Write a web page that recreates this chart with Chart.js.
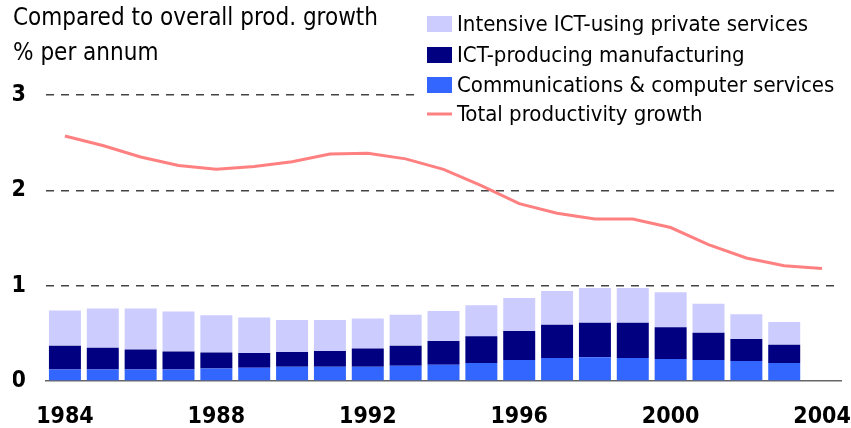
<!DOCTYPE html>
<html>
<head>
<meta charset="utf-8">
<script src="https://cdn.jsdelivr.net/npm/chart.js@4.4.1/dist/chart.umd.min.js"></script>
<style>
  html, body { margin: 0; padding: 0; background: #fff; }
  #wrap { width: 851px; height: 428px; position: relative; }
</style>
</head>
<body>
<div id="wrap"><canvas id="c"></canvas></div>
<script>
var FONT = "'DejaVu Sans Condensed', 'Liberation Sans Narrow', sans-serif";

var years = ['1984','1985','1986','1987','1988','1989','1990','1991','1992','1993','1994',
             '1995','1996','1997','1998','1999','2000','2001','2002','2003','2004'];

// stacked contributions (bottom to top), no bar for 2004
var commsServices = [0.12,0.12,0.12,0.12,0.13,0.14,0.15,0.15,0.15,0.16,0.17,0.19,0.22,0.24,0.25,0.24,0.23,0.22,0.21,0.19];
var ictManufacturing = [0.25,0.23,0.21,0.19,0.17,0.155,0.155,0.165,0.19,0.21,0.25,0.28,0.305,0.35,0.36,0.37,0.335,0.285,0.23,0.19];
var ictUsingServices = [0.37,0.41,0.43,0.42,0.39,0.37,0.335,0.325,0.315,0.325,0.315,0.325,0.345,0.355,0.365,0.365,0.365,0.305,0.26,0.24];

var totalGrowth = [2.57,2.47,2.35,2.26,2.22,2.25,2.30,2.38,2.39,2.33,2.22,2.05,1.86,1.76,1.70,1.70,1.61,1.43,1.29,1.21,1.18];

var yTicks = [0, 1, 2, 3];

// legend drawn as a column over the top right corner
var boxLegend = {
  id: 'boxLegend',
  afterDraw: function(chart){
    var ctx = chart.ctx;
    var order = [2, 1, 0, 3];
    var x0 = 427, rowY = [24, 55, 85, 114];
    ctx.save();
    ctx.fillStyle = '#fff';
    ctx.fillRect(421, 0, chart.width - 421, 128);
    ctx.font = '22px ' + FONT;
    ctx.textBaseline = 'middle';
    ctx.textAlign = 'left';
    for(var i=0; i<order.length; i++){
      var ds = chart.data.datasets[order[i]];
      var y = rowY[i];
      if(ds.type === 'line'){
        ctx.strokeStyle = ds.borderColor;
        ctx.lineWidth = 3;
        ctx.beginPath();
        ctx.moveTo(x0, y);
        ctx.lineTo(x0+25, y);
        ctx.stroke();
      } else {
        ctx.fillStyle = ds.backgroundColor;
        ctx.fillRect(x0, y-8, 25, 16);
      }
      ctx.fillStyle = '#000';
      ctx.fillText(ds.label, x0+30, y+1);
    }
    ctx.restore();
  }
};

var chart = new Chart(document.getElementById('c'), {
  type: 'bar',
  data: {
    labels: years,
    datasets: [
      {label: 'Communications & computer services', data: commsServices, backgroundColor: '#3366FF', stack: 'ict', order: 1},
      {label: 'ICT-producing manufacturing', data: ictManufacturing, backgroundColor: '#000080', stack: 'ict', order: 1},
      {label: 'Intensive ICT-using private services', data: ictUsingServices, backgroundColor: '#CCCCFF', stack: 'ict', order: 1},
      {label: 'Total productivity growth', type: 'line', data: totalGrowth, borderColor: '#FF8080',
       backgroundColor: '#FF8080', borderWidth: 3, pointRadius: 0, tension: 0, stack: 'total', order: 0}
    ]
  },
  options: {
    responsive: true,
    maintainAspectRatio: false,
    animation: false,
    layout: { padding: {left: 13, right: 10, top: 1, bottom: 0} },
    datasets: { bar: { barPercentage: 0.845, categoryPercentage: 1, borderWidth: 0 } },
    plugins: {
      legend: { display: false },
      tooltip: { enabled: false },
      title: {
        display: true,
        text: ['Compared to overall prod. growth', '% per annum'],
        align: 'start',
        color: '#000',
        font: { family: FONT, size: 24, weight: 'normal', lineHeight: '35px' },
        padding: { top: 0, bottom: 24 }
      }
    },
    scales: {
      x: {
        stacked: true,
        grid: { display: false },
        border: { display: true, color: '#666', width: 1.5 },
        afterFit: function(axis){ axis.height = 47; axis.paddingRight = 0; axis.paddingLeft = 0; },
        ticks: {
          autoSkip: false, maxRotation: 0, color: '#000', padding: 17,
          font: { family: FONT, size: 23, weight: 'bold', lineHeight: 1 },
          callback: function(v, i){ return (parseInt(years[i]) - 1984) % 4 === 0 ? years[i] : ''; }
        }
      },
      y: {
        stacked: true,
        min: yTicks[0], max: yTicks[yTicks.length-1],
        afterBuildTicks: function(axis){ axis.ticks = yTicks.map(function(v){ return {value: v}; }); },
        afterFit: function(axis){ axis.width = 33; },
        grid: {
          drawTicks: false, lineWidth: 1.5,
          color: function(c){ return c.tick && c.tick.value === 0 ? 'rgba(0,0,0,0)' : '#444'; }
        },
        border: { display: false, dash: [8, 7] },
        ticks: {
          color: '#000', padding: 20,
          font: { family: FONT, size: 23, weight: 'bold', lineHeight: 1 }
        }
      }
    }
  },
  plugins: [boxLegend]
});
</script>
</body>
</html>
